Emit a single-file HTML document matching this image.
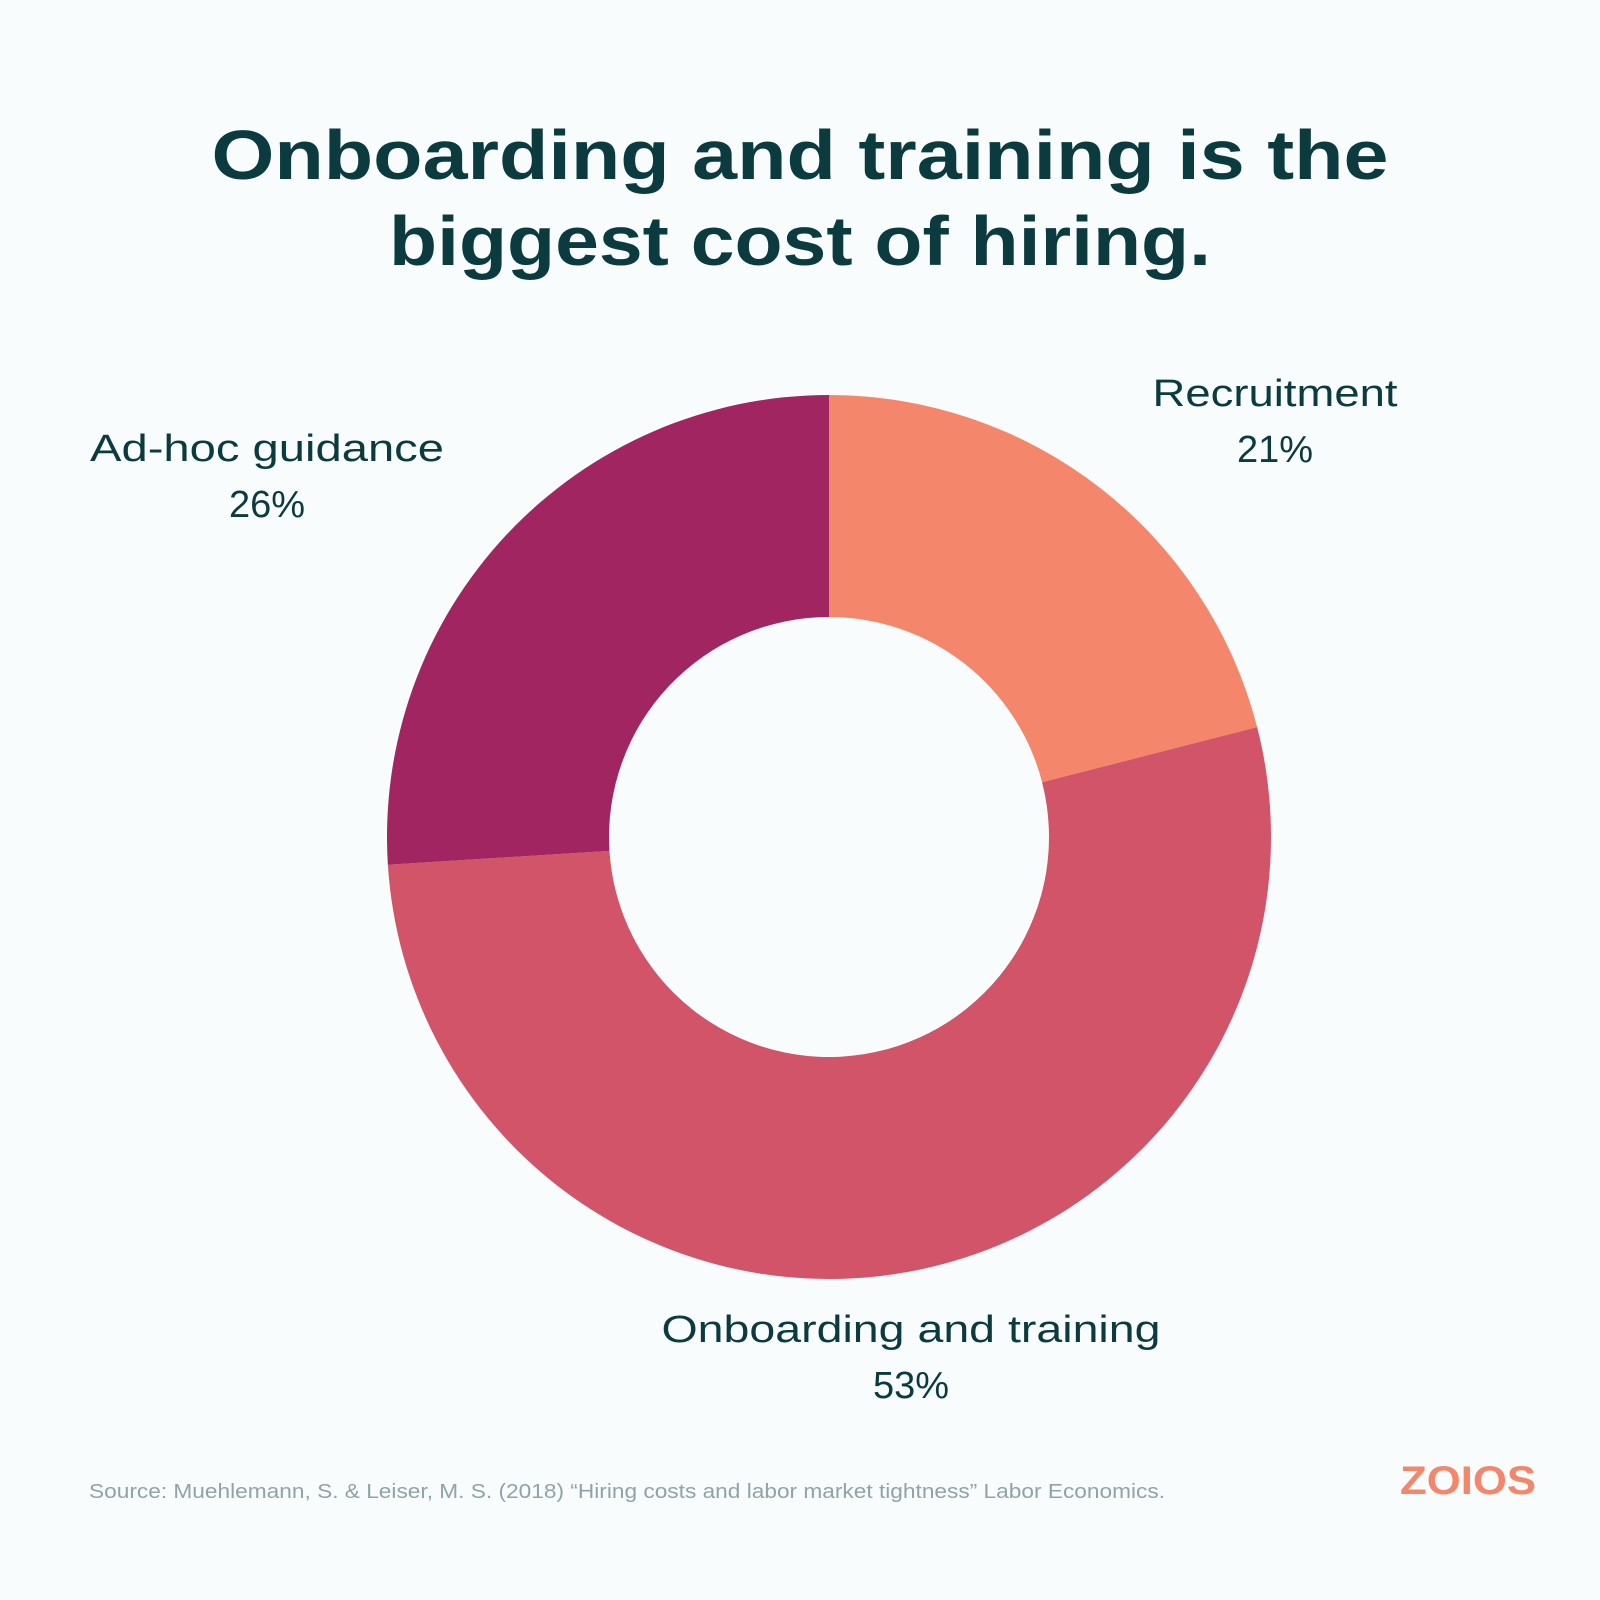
<!DOCTYPE html>
<html><head><meta charset="utf-8"><style>
html,body{margin:0;padding:0;background:#F8FCFD;}
svg{display:block;font-family:"Liberation Sans",sans-serif;}
</style></head><body>
<svg width="1600" height="1600" viewBox="0 0 1600 1600">
<rect width="1600" height="1600" fill="#F8FCFD"/>
<text x="800" y="155" text-anchor="middle" dominant-baseline="central" font-size="70" font-weight="bold" fill="#0B3B3F" textLength="1177" lengthAdjust="spacingAndGlyphs">Onboarding and training is the</text>
<text x="800" y="241" text-anchor="middle" dominant-baseline="central" font-size="70" font-weight="bold" fill="#0B3B3F" textLength="822" lengthAdjust="spacingAndGlyphs">biggest cost of hiring.</text>
<g id="slices"></g>
<g id="labels"></g>
<text x="89" y="1492" dominant-baseline="central" font-size="20" fill="#8FA3A8" textLength="1076" lengthAdjust="spacingAndGlyphs">Source: Muehlemann, S. &amp; Leiser, M. S. (2018) “Hiring costs and labor market tightness” Labor Economics.</text>
<text x="1468" y="1481" text-anchor="middle" dominant-baseline="central" font-size="40" font-weight="bold" fill="#F4876B" textLength="136" lengthAdjust="spacingAndGlyphs">ZOIOS</text>
</svg>
<script>
const categories = ["Recruitment", "Onboarding and training", "Ad-hoc guidance"];
const values = [21, 53, 26];
const valueLabels = ["21%", "53%", "26%"];
const colors = ["#F4876B", "#D15468", "#A12560"];
const labelPos = [[1275, 394], [911, 1330], [267, 449]];
const nameWidths = [245, 499, 354];

const cx = 829, cy = 837, R = 442, r = 220;
const NS = "http://www.w3.org/2000/svg";
const total = values.reduce((a, b) => a + b, 0);
function pt(rad, frac) {
  const a = frac * 2 * Math.PI;
  return [cx + rad * Math.sin(a), cy - rad * Math.cos(a)];
}
const g = document.getElementById("slices");
const lg = document.getElementById("labels");
let acc = 0;
values.forEach((v, i) => {
  const f0 = acc / total, f1 = (acc + v) / total;
  acc += v;
  const large = (f1 - f0) > 0.5 ? 1 : 0;
  const [x0, y0] = pt(R, f0), [x1, y1] = pt(R, f1);
  const [x2, y2] = pt(r, f1), [x3, y3] = pt(r, f0);
  const p = document.createElementNS(NS, "path");
  p.setAttribute("d", `M${x0},${y0} A${R},${R} 0 ${large} 1 ${x1},${y1} L${x2},${y2} A${r},${r} 0 ${large} 0 ${x3},${y3} Z`);
  p.setAttribute("fill", colors[i]);
  
  
  g.appendChild(p);
  const [lx, ly] = labelPos[i];
  const t1 = document.createElementNS(NS, "text");
  t1.setAttribute("x", lx); t1.setAttribute("y", ly);
  t1.setAttribute("text-anchor", "middle"); t1.setAttribute("dominant-baseline", "central");
  t1.setAttribute("font-size", "38"); t1.setAttribute("fill", "#0B3B3F");
  t1.setAttribute("textLength", nameWidths[i]); t1.setAttribute("lengthAdjust", "spacingAndGlyphs");
  t1.textContent = categories[i];
  
  
  lg.appendChild(t1);
  const t2 = document.createElementNS(NS, "text");
  t2.setAttribute("x", lx); t2.setAttribute("y", ly + 56);
  t2.setAttribute("text-anchor", "middle"); t2.setAttribute("dominant-baseline", "central");
  t2.setAttribute("font-size", "38"); t2.setAttribute("fill", "#0B3B3F");
  t2.textContent = valueLabels[i];
  
  
  lg.appendChild(t2);
});
</script>
</body></html>
